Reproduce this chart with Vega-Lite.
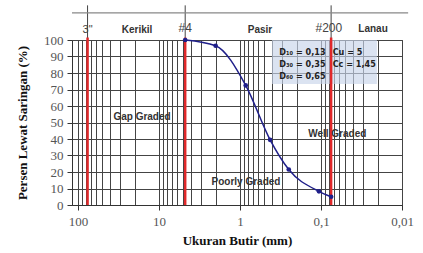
{
  "$schema": "https://vega.github.io/schema/vega-lite/v6.json",
  "width": 330,
  "height": 165,
  "autosize": "none",
  "padding": {"left": 72, "top": 40, "right": 21, "bottom": 48},
  "background": "white",
  "config": {
    "view": {"stroke": "#333", "strokeWidth": 1},
    "axis": {
      "labelFont": "Liberation Serif",
      "labelFontSize": 13,
      "labelColor": "#555",
      "titleFont": "Liberation Serif",
      "titleFontSize": 13,
      "titleFontWeight": "bold",
      "titleColor": "#111",
      "gridColor": "#444",
      "gridOpacity": 1,
      "gridWidth": 1,
      "tickColor": "#333",
      "domainColor": "#333"
    },
    "text": {"font": "Liberation Sans"}
  },
  "datasets": {
    "gradasi": [
      {"d": 4.75, "p": 100},
      {"d": 2.0, "p": 96.5},
      {"d": 0.85, "p": 72.5},
      {"d": 0.425, "p": 39.5},
      {"d": 0.25, "p": 21.5},
      {"d": 0.106, "p": 8.3},
      {"d": 0.075, "p": 5}
    ],
    "saringan": [
      {"nama": "3\"", "d": 76.2, "p": 0, "p_garis": 121, "p_merah": 101.5},
      {"nama": "#4", "d": 4.75, "p": 0, "p_garis": 121, "p_merah": 101.5},
      {"nama": "#200", "d": 0.075, "p": 0, "p_garis": 121, "p_merah": 101.5}
    ],
    "keterangan": [
      {"teks": "Gap Graded", "d": 16.2, "p": 53.3},
      {"teks": "Well Graded", "d": 0.063, "p": 43},
      {"teks": "Poorly Graded", "d": 0.843, "p": 14}
    ],
    "parameter": [
      {"teks": "D₁₀ = 0,13", "d": 0.327, "p": 92.9},
      {"teks": "D₃₀ = 0,35", "d": 0.327, "p": 85.6},
      {"teks": "D₆₀ = 0,65", "d": 0.327, "p": 78.2},
      {"teks": "Cu = 5", "d": 0.0718, "p": 92.9},
      {"teks": "Cc = 1,45", "d": 0.0718, "p": 85.6}
    ],
    "jenis": [
      {"teks": "Kerikil", "d": 18.7, "p": 106},
      {"teks": "Pasir", "d": 0.566, "p": 106},
      {"teks": "Lanau", "d": 0.0228, "p": 106.5}
    ],
    "nomor": [
      {"teks": "3\"", "d": 76.2, "p": 106, "ukuran": 11},
      {"teks": "#4", "d": 4.75, "p": 107.5, "ukuran": 12},
      {"teks": "#200", "d": 0.08, "p": 107.5, "ukuran": 12}
    ]
  },
  "encoding": {
    "x": {
      "field": "d",
      "type": "quantitative",
      "scale": {"type": "log", "domain": [0.01, 118.6], "reverse": true, "nice": false},
      "axis": {
        "title": "Ukuran Butir (mm)",
        "values": [100, 90, 80, 70, 60, 50, 40, 30, 20, 10, 9, 8, 7, 6, 5, 4, 3, 2, 1, 0.9, 0.8, 0.7, 0.6, 0.5, 0.4, 0.3, 0.2, 0.1, 0.09, 0.08, 0.07, 0.06, 0.05, 0.04, 0.03, 0.02, 0.01],
        "labelExpr": "datum.value == 100 ? '100' : datum.value == 10 ? '10' : datum.value == 1 ? '1' : datum.value == 0.1 ? '0,1' : datum.value == 0.01 ? '0,01' : ''",
        "tickOpacity": {"condition": {"test": "datum.value == 100 || datum.value == 10 || datum.value == 1 || datum.value == 0.1 || datum.value == 0.01", "value": 1}, "value": 0},
        "tickSize": 5,
        "labelPadding": 5,
        "titlePadding": 6,
        "labelFlush": false,
        "labelOverlap": false,
        "grid": true
      }
    },
    "y": {
      "field": "p",
      "type": "quantitative",
      "scale": {"domain": [0, 100], "nice": false},
      "axis": {
        "title": "Persen Lewat Saringan (%)",
        "values": [0, 10, 20, 30, 40, 50, 60, 70, 80, 90, 100],
        "tickSize": 5,
        "labelPadding": 4,
        "labelOverlap": false,
        "labelFlush": false,
        "titlePadding": 14,
        "domain": false,
        "grid": true
      }
    }
  },
  "layer": [
    {
      "data": {"name": "gradasi"},
      "mark": {"type": "point", "opacity": 0}
    },
    {
      "data": {"name": "saringan"},
      "mark": {"type": "rule", "color": "#444", "strokeWidth": 1},
      "encoding": {
        "y2": {"field": "p_garis"}
      }
    },
    {
      "data": {"values": [{"d": 118.6, "d2": 0.0084, "p": 116.4}]},
      "mark": {"type": "rule", "color": "#888", "strokeWidth": 1.2},
      "encoding": {
        "x2": {"field": "d2"}
      }
    },
    {
      "data": {"values": [{"d": 0.403, "d2": 0.0204, "p": 100, "p2": 73.3}]},
      "mark": {"type": "rect", "color": "#c8d4ea", "opacity": 0.65},
      "encoding": {
        "x2": {"field": "d2"},
        "y2": {"field": "p2"}
      }
    },
    {
      "data": {"name": "saringan"},
      "mark": {"type": "rule", "color": "#e0282a", "strokeWidth": 2.5},
      "encoding": {
        "y2": {"field": "p_merah"}
      }
    },
    {
      "data": {"name": "gradasi"},
      "mark": {"type": "line", "color": "#1f1f8a", "strokeWidth": 1.5, "interpolate": "monotone"},
      "encoding": {
        "order": {"field": "d", "sort": "descending"}
      }
    },
    {
      "data": {"name": "gradasi"},
      "mark": {"type": "point", "filled": true, "color": "#1f1f8a", "size": 22, "opacity": 1}
    },
    {
      "data": {"name": "keterangan"},
      "mark": {"type": "text", "fontWeight": "bold", "fontSize": 10, "color": "#333", "align": "center", "baseline": "middle"},
      "encoding": {
        "text": {"field": "teks"}
      }
    },
    {
      "data": {"name": "parameter"},
      "mark": {"type": "text", "font": "DejaVu Sans Condensed", "fontWeight": "bold", "fontSize": 9, "color": "#222", "align": "left", "baseline": "middle"},
      "encoding": {
        "text": {"field": "teks"}
      }
    },
    {
      "data": {"name": "jenis"},
      "mark": {"type": "text", "fontWeight": "bold", "fontSize": 10, "color": "#333", "align": "center", "baseline": "middle"},
      "encoding": {
        "text": {"field": "teks"}
      }
    },
    {
      "data": {"name": "nomor"},
      "mark": {"type": "text", "color": "#444", "align": "center", "baseline": "middle"},
      "encoding": {
        "size": {"field": "ukuran", "type": "quantitative", "scale": null},
        "text": {"field": "teks"}
      }
    }
  ]
}
